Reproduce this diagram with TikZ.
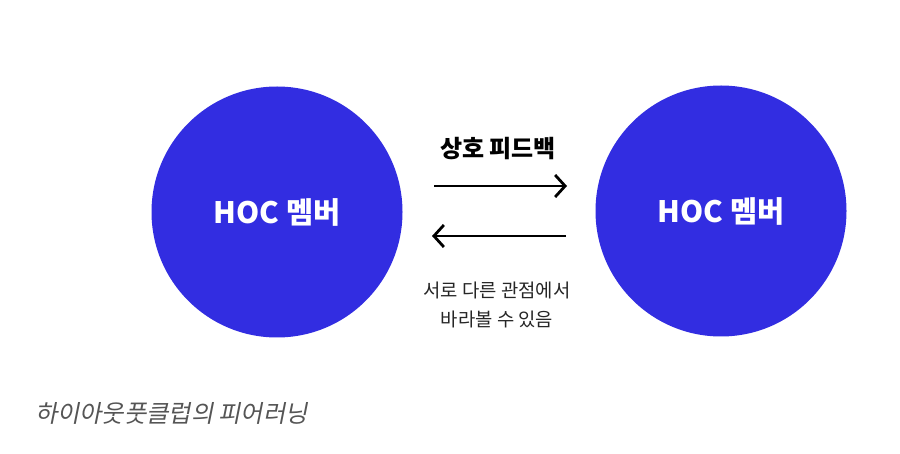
\documentclass[tikz,border=0pt]{standalone}
\usepackage{fontspec}
\setmainfont{Noto Sans CJK KR}
\newfontfamily\capfont[FakeSlant=0.2]{Noto Sans CJK KR}
\usetikzlibrary{arrows.meta}
\definecolor{hocblue}{RGB}{50,45,225}
\definecolor{capgray}{RGB}{85,85,85}
\tikzset{
  member/.style={circle, fill=hocblue, minimum size=251pt, inner sep=0pt, text=white, font=\fontsize{29.5}{34}\selectfont\bfseries},
  flow/.style={line width=2.8pt, -{Straight Barb[length=10pt,width=22pt,line width=2.8pt]}},
  lbl/.style={inner sep=0pt, anchor=center}
}
\begin{document}
\begin{tikzpicture}[x=1pt,y=-1pt]
\useasboundingbox (0,0) rectangle (900,454);
\fill[white] (0,0) rectangle (900,454);
\node[member] (L) at (277,212) {HOC 멤버};
\node[member] (R) at (721,211) {HOC 멤버};
\node[lbl, font=\fontsize{24}{28}\selectfont\bfseries] (top) at (498,149) {상호 피드백};
\coordinate (a1s) at (434,186);
\coordinate (a1e) at (567,186);
\coordinate (a2s) at (566,236);
\coordinate (a2e) at (432,236);
\draw[flow] (a1s) -- (a1e);
\draw[flow] (a2s) -- (a2e);
\node[lbl, font=\fontsize{18.8}{29}\selectfont, align=center, text=black!85] (note) at (497,305) {서로 다른 관점에서\\바라볼 수 있음};
\node[lbl, anchor=west, font=\capfont\fontsize{24.2}{28}\selectfont, text=capgray] (cap) at (35,413) {하이아웃풋클럽의 피어러닝};
\end{tikzpicture}
\end{document}
